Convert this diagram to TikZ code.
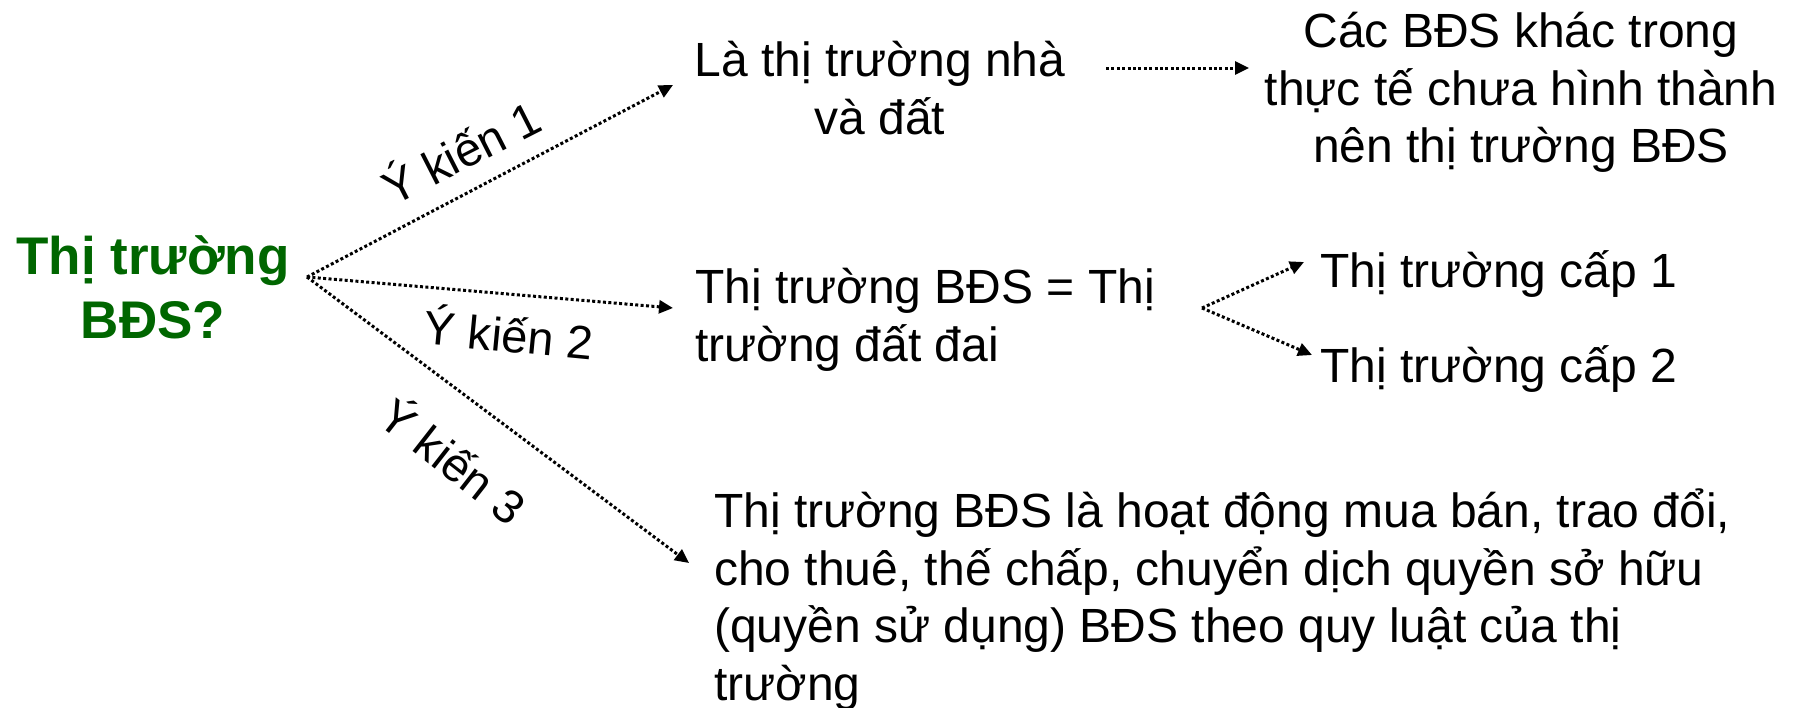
\documentclass[tikz,border=0pt]{standalone}
\usepackage{fontspec}
\setmainfont{Liberation Sans}
\usetikzlibrary{arrows.meta}
\definecolor{titlegreen}{RGB}{0,102,0}
\tikzset{
  body/.style={inner sep=0pt, font=\fontsize{48pt}{57.5pt}\selectfont},
  title/.style={inner sep=0pt, align=center, text=titlegreen,
    font=\fontsize{53pt}{64pt}\selectfont\bfseries},
  link/.style={line width=3pt, dash pattern=on 3pt off 2.4pt,
    -{Triangle[length=14pt,width=13pt]}},
  opinion/.style={inner sep=0pt, font=\fontsize{47pt}{52pt}\selectfont}
}
\begin{document}
\begin{tikzpicture}[x=1pt,y=-1pt]
\useasboundingbox (0,0) rectangle (1795,707);

% question on the left; multi-line nodes sit on the baseline of their last line
\node[title, anchor=base] (q) at (153,338) {Thị trường\\BĐS?};
\coordinate (hub) at (307,277);

% the three opinions
\node[body, align=center, anchor=base] (house) at (880,134) {Là thị trường nhà\\và đất};
\node[body, align=center, anchor=base] (other) at (1521,162.5)
  {Các BĐS khác trong\\thực tế chưa hình thành\\nên thị trường BĐS};
\node[body, align=left, anchor=base west] (land) at (695,361)
  {Thị trường BĐS = Thị\\trường đất đai};
\node[body, anchor=base west] (lvl1) at (1320,287) {Thị trường cấp 1};
\node[body, anchor=base west] (lvl2) at (1320,382) {Thị trường cấp 2};
\node[body, align=left, anchor=base west] (trade) at (714,700)
  {Thị trường BĐS là hoạt động mua bán, trao đổi,\\
   cho thuê, thế chấp, chuyển dịch quyền sở hữu\\
   (quyền sử dụng) BĐS theo quy luật của thị\\
   trường};

% arrow ends
\coordinate (e1) at (673,85);
\coordinate (e2) at (673,308);
\coordinate (e3) at (689,563);
\coordinate (o1) at (1106,68);
\coordinate (o2) at (1249,68);
\coordinate (split) at (1202,308);
\coordinate (s1) at (1304,262);
\coordinate (s2) at (1312,355);

\draw[link] (hub) -- (e1);
\draw[link] (hub) -- (e2);
\draw[link] (hub) -- (e3);
\draw[link] (o1) -- (o2);
\draw[link] (split) -- (s1);
\draw[link] (split) -- (s2);

% opinion labels along the arrows
\node[opinion, rotate=27] (k1) at (460,150) {Ý kiến 1};
\node[opinion, rotate=-5.5] (k2) at (509,332) {Ý kiến 2};
\node[opinion, rotate=-38] (k3) at (455,459) {Ý kiến 3};
\end{tikzpicture}
\end{document}
